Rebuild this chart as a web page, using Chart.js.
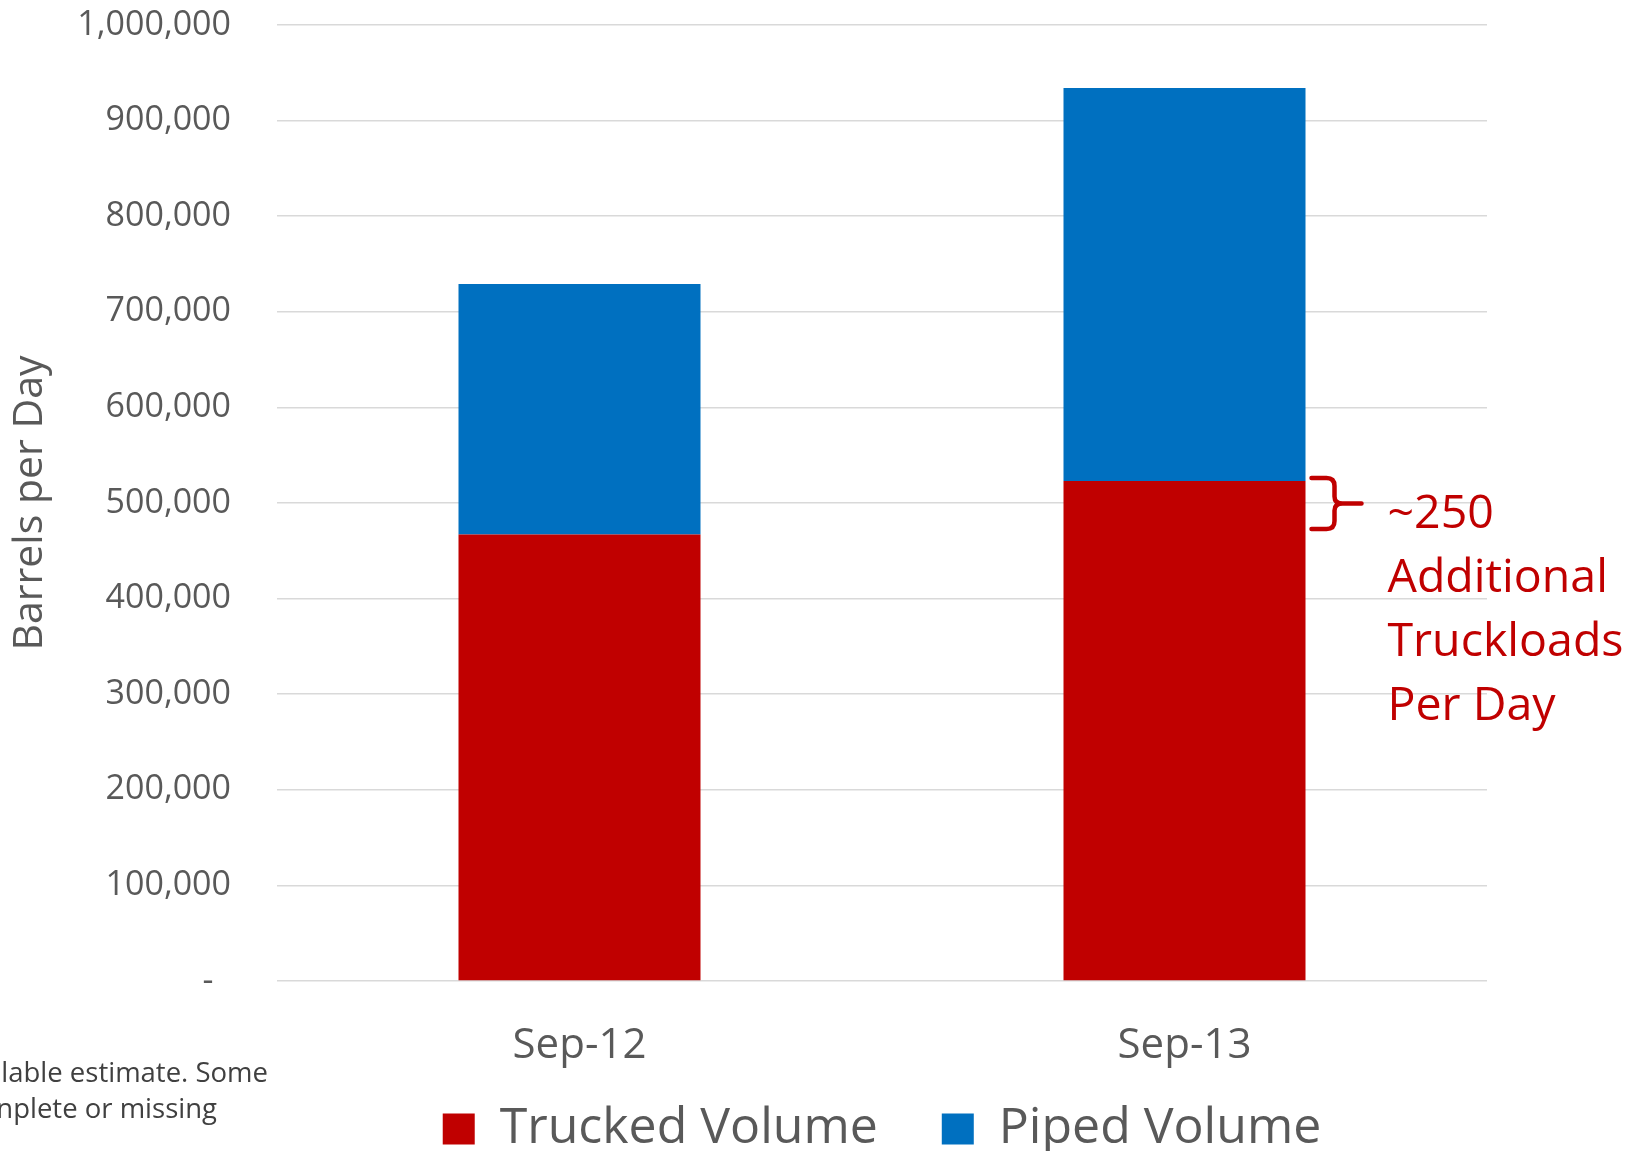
<!DOCTYPE html>
<html>
<head>
<meta charset="utf-8">
<script src="https://cdn.jsdelivr.net/npm/chart.js"></script>
<style>
  html, body { margin: 0; padding: 0; background: #ffffff; }
  #wrap { width: 1639px; height: 1151px; position: relative; }
</style>
</head>
<body>
<div id="wrap"><canvas id="c" width="1639" height="1151"></canvas></div>
<script>
// ---- data ----
const categories = ['Sep-12', 'Sep-13'];
const truckedVolume = [467000, 523000];
const pipedVolume = [262000, 411000];
const seriesNames = ['Trucked Volume', 'Piped Volume'];
const yAxisTitle = 'Barrels per Day';
const yMin = 0;
const yMax = 1000000;
const yStep = 100000;
const annotationLines = ['~250', 'Additional', 'Truckloads', 'Per Day'];
const footnoteLines = ['lable estimate. Some', 'nplete or missing'];

// ---- styles ----
const RED = '#C00000';
const BLUE = '#0070C0';
const GREY_TEXT = '#595959';
const GRID = '#d9d9d9';
const FONT = "'Open Sans', 'DejaVu Sans', sans-serif";

const overlayPlugin = {
  id: 'overlay',
  afterLayout(chart) {
    // place the legend row just below the category labels
    const lg = chart.legend;
    if (lg) {
      const h = lg.bottom - lg.top;
      lg.top = chart.chartArea.bottom + 59;
      lg.bottom = lg.top + h;
    }
  },
  afterDatasetsDraw(chart) {
    const ctx = chart.ctx;
    const el = chart.getDatasetMeta(0).data[1];
    const right = el.x + el.width / 2;
    const y0 = el.y - 3;
    const y1 = el.y + 48;
    const mid = (y0 + y1) / 2;
    const x0 = right + 6;
    const xs = right + 29;
    const tip = right + 56;
    ctx.save();
    ctx.strokeStyle = RED;
    ctx.lineWidth = 4.5;
    ctx.lineCap = 'round';
    ctx.lineJoin = 'round';
    ctx.beginPath();
    ctx.moveTo(x0, y0);
    ctx.lineTo(xs - 8, y0);
    ctx.quadraticCurveTo(xs, y0, xs, y0 + 8);
    ctx.lineTo(xs, mid - 7);
    ctx.quadraticCurveTo(xs, mid, xs + 8, mid);
    ctx.lineTo(tip, mid);
    ctx.moveTo(xs + 8, mid);
    ctx.quadraticCurveTo(xs, mid, xs, mid + 7);
    ctx.lineTo(xs, y1 - 8);
    ctx.quadraticCurveTo(xs, y1, xs - 8, y1);
    ctx.lineTo(x0, y1);
    ctx.stroke();

    ctx.fillStyle = RED;
    ctx.font = '46.5px ' + FONT;
    ctx.textAlign = 'left';
    ctx.textBaseline = 'alphabetic';
    annotationLines.forEach((t, i) => {
      ctx.fillText(t, right + 82, mid + 24 + i * 64);
    });

    ctx.fillStyle = '#404040';
    ctx.font = '27.5px ' + FONT;
    ctx.textAlign = 'right';
    ctx.fillText(footnoteLines[0], 268, 1082);
    ctx.fillText(footnoteLines[1], 217, 1118);
    ctx.restore();
  }
};

new Chart(document.getElementById('c'), {
  type: 'bar',
  data: {
    labels: categories,
    datasets: [
      { label: seriesNames[0], data: truckedVolume, backgroundColor: RED, borderWidth: 0,
        categoryPercentage: 1.0, barPercentage: 0.4 },
      { label: seriesNames[1], data: pipedVolume, backgroundColor: BLUE, borderWidth: 0,
        categoryPercentage: 1.0, barPercentage: 0.4 }
    ]
  },
  options: {
    responsive: false,
    animation: false,
    devicePixelRatio: 1,
    layout: { padding: { left: 0, right: 152, top: 25, bottom: -44 } },
    plugins: {
      tooltip: { enabled: false },
      legend: {
        position: 'bottom',
        fullSize: false,
        labels: {
          boxWidth: 32,
          boxHeight: 31,
          padding: 64,
          color: GREY_TEXT,
          font: { family: FONT, size: 50 }
        }
      }
    },
    scales: {
      x: {
        stacked: true,
        grid: { display: false, drawTicks: false },
        border: { display: false },
        ticks: { color: GREY_TEXT, font: { family: FONT, size: 42 }, padding: 40 },
        afterFit(scale) { scale.height = 90; }
      },
      y: {
        stacked: true,
        min: yMin,
        max: yMax,
        grid: { color: GRID, lineWidth: 1.5, drawTicks: true, tickLength: 46, tickColor: 'rgba(0,0,0,0)' },
        border: { display: false },
        ticks: {
          stepSize: yStep,
          padding: 0,
          color: GREY_TEXT,
          font: { family: FONT, size: 34 },
          callback: (v) => v === 0 ? '-  ' : Number(v).toLocaleString('en-US')
        },
        title: {
          display: true,
          text: yAxisTitle,
          color: GREY_TEXT,
          font: { family: FONT, size: 41 },
          padding: { top: 6, bottom: 0 }
        },
        afterFit(scale) { scale.width = 277; }
      }
    }
  },
  plugins: [overlayPlugin]
});
</script>
</body>
</html>
